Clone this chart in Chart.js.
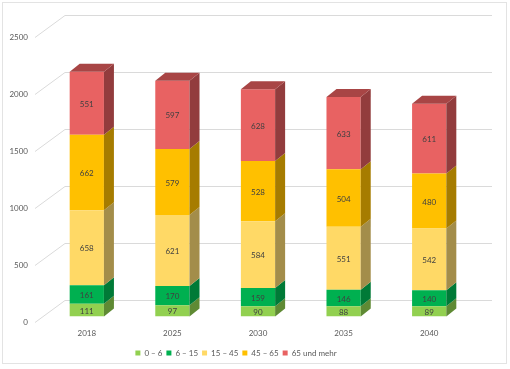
<!DOCTYPE html>
<html>
<head>
<meta charset="utf-8">
<script src="https://cdn.jsdelivr.net/npm/chart.js@4/dist/chart.umd.min.js"></script>
<style>
  body { margin: 0; background: #fff; }
  #wrap { position: relative; width: 510px; height: 369px; }
  #frame { position: absolute; left: 2px; top: 2px; width: 505px; height: 362px; border: 1px solid #e3e3e3; box-sizing: border-box; }
</style>
</head>
<body>
<div id="wrap">
  <div id="frame"></div>
  <canvas id="chart" width="510" height="369"></canvas>
</div>
<script>
// Bevölkerung nach Altersgruppen
const years = ["2018", "2025", "2030", "2035", "2040"];
const groups = ["0 – 6", "6 – 15", "15 – 45", "45 – 65", "65 und mehr"];
const age0to6 = [111, 97, 90, 88, 89];
const age6to15 = [161, 170, 159, 146, 140];
const age15to45 = [658, 621, 584, 551, 542];
const age45to65 = [662, 579, 528, 504, 480];
const age65plus = [551, 597, 628, 633, 611];
const yTicks = [0, 500, 1000, 1500, 2000, 2500];

const front = ["#92d050", "#00b050", "#ffd966", "#ffc000", "#e86262"];
const side = ["#5f8a34", "#007a37", "#a38d4a", "#a67c00", "#923c3d"];
const topColor = "#a84545";

// 3D depth of the bars and of the back wall
const dx = 10, dy = -8;

const wallPlugin = {
  id: "wall",
  beforeDatasetsDraw(chart) {
    const ctx = chart.ctx;
    const y = chart.scales.y;
    const area = chart.chartArea;
    ctx.save();
    ctx.strokeStyle = "#dadada";
    ctx.lineWidth = 1;
    yTicks.forEach(v => {
      const py = Math.round(y.getPixelForValue(v)) + 0.5;
      ctx.beginPath();
      ctx.moveTo(area.left - 9, py + 6);
      ctx.lineTo(area.left + 21, py - 16);
      ctx.lineTo(area.right + 20, py - 16);
      ctx.stroke();
    });
    ctx.restore();
  }
};

const boxPlugin = {
  id: "box3d",
  afterDatasetsDraw(chart) {
    const ctx = chart.ctx;
    const last = chart.data.datasets.length - 1;
    ctx.save();
    chart.data.datasets.forEach((ds, i) => {
      const meta = chart.getDatasetMeta(i);
      meta.data.forEach(bar => {
        const r = bar.x + bar.width / 2;
        const l = bar.x - bar.width / 2;
        ctx.fillStyle = side[i];
        ctx.beginPath();
        ctx.moveTo(r, bar.y);
        ctx.lineTo(r + dx, bar.y + dy);
        ctx.lineTo(r + dx, bar.base + dy);
        ctx.lineTo(r, bar.base);
        ctx.closePath();
        ctx.fill();
        if (i === last) {
          ctx.fillStyle = topColor;
          ctx.beginPath();
          ctx.moveTo(l, bar.y);
          ctx.lineTo(l + dx, bar.y + dy);
          ctx.lineTo(r + dx, bar.y + dy);
          ctx.lineTo(r, bar.y);
          ctx.closePath();
          ctx.fill();
        }
      });
    });
    // Werte in die Segmente
    ctx.fillStyle = "#404040";
    ctx.font = "8px Lato";
    ctx.textAlign = "center";
    ctx.textBaseline = "middle";
    chart.data.datasets.forEach((ds, i) => {
      chart.getDatasetMeta(i).data.forEach((bar, j) => {
        ctx.fillText(ds.data[j], bar.x, (bar.y + bar.base) / 2 + 1);
      });
    });
    ctx.restore();
  }
};

const series = [age0to6, age6to15, age15to45, age45to65, age65plus];

new Chart(document.getElementById("chart"), {
  type: "bar",
  data: {
    labels: years,
    datasets: series.map((d, i) => ({
      label: groups[i],
      data: d,
      backgroundColor: front[i],
      borderWidth: 0,
      barPercentage: 0.4,
      categoryPercentage: 1
    }))
  },
  options: {
    responsive: false,
    animation: false,
    layout: { padding: { left: 0, right: 38, top: 31, bottom: 2 } },
    scales: {
      x: {
        stacked: true,
        afterFit(s) { s.height -= 5; },
        grid: { display: false, drawTicks: false },
        border: { display: false },
        ticks: { color: "#595959", font: { family: "Lato", size: 8 }, padding: 12 }
      },
      y: {
        stacked: true,
        min: 0,
        max: 2500,
        afterFit(s) { s.width = 44; },
        afterBuildTicks(s) { s.ticks = yTicks.map(v => ({ value: v })); },
        grid: { display: false, drawTicks: false },
        border: { display: false },
        ticks: {
          color: "#595959",
          font: { family: "Lato", size: 8 },
          padding: 16,
          labelOffset: 6,
          callback: v => String(v)
        }
      }
    },
    plugins: {
      legend: {
        position: "bottom",
        labels: {
          boxWidth: 5,
          boxHeight: 5,
          padding: 4,
          color: "#595959",
          font: { family: "Lato", size: 8 }
        }
      },
      tooltip: { enabled: false }
    }
  },
  plugins: [wallPlugin, boxPlugin]
});
</script>
</body>
</html>
